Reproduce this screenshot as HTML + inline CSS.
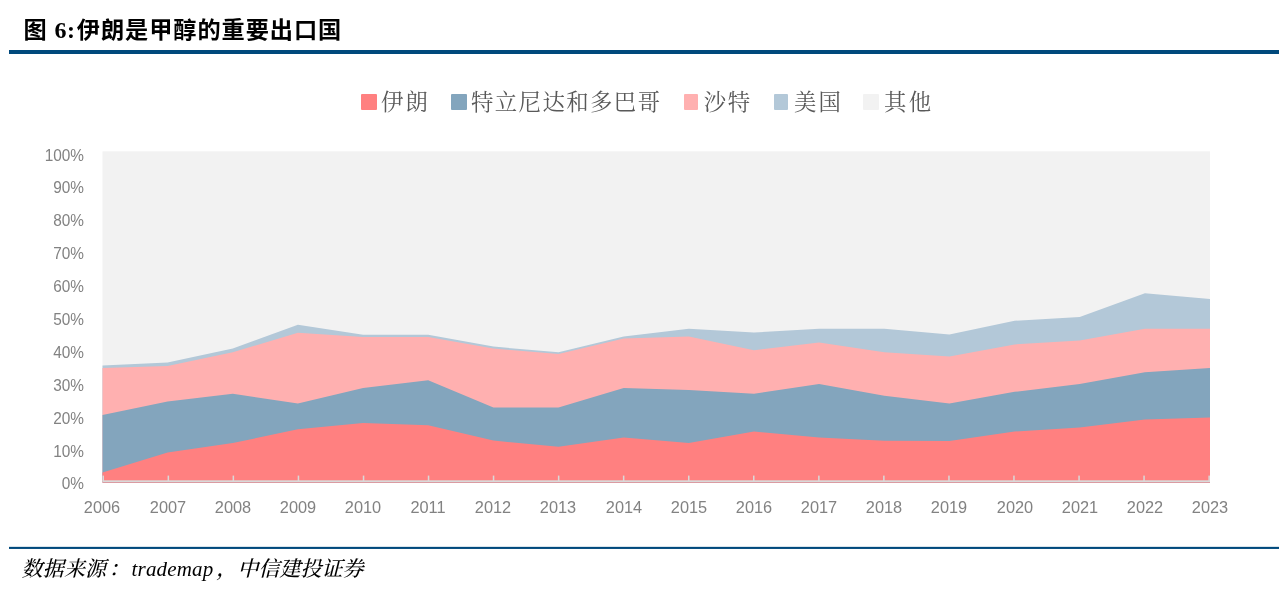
<!DOCTYPE html>
<html lang="zh-CN">
<head>
<meta charset="utf-8">
<title>图 6:伊朗是甲醇的重要出口国</title>
<style>
html,body{margin:0;padding:0;background:#fff;}
#page{position:relative;width:1284px;height:590px;overflow:hidden;background:#fff;}
#title{position:absolute;left:23.6px;top:12.3px;letter-spacing:0.93px;height:36px;line-height:36px;white-space:nowrap;
  font-family:"Liberation Serif","Noto Sans CJK SC",sans-serif;font-weight:bold;font-size:23.2px;color:#000;}
#title .n{font-family:"Liberation Serif",serif;font-size:24px;margin-left:0px;margin-right:1.2px;letter-spacing:0.6px;}
#rule1{position:absolute;left:9px;top:50px;width:1270px;height:4px;background:#00497C;}
.src{position:absolute;top:553px;height:32px;line-height:32px;white-space:nowrap;
  font-family:"Liberation Serif","Noto Serif CJK SC",serif;font-style:italic;font-size:21px;color:#000;}
svg{position:absolute;left:0;top:0;}
.cj{font-weight:500;}
.yl{position:absolute;left:19px;width:65px;height:20px;line-height:20px;text-align:right;
  font-family:"Liberation Sans",sans-serif;font-size:16.2px;color:#828282;transform:scaleX(0.95);transform-origin:100% 50%;}
.xl{position:absolute;top:497.4px;width:60px;height:20px;line-height:20px;text-align:center;
  font-family:"Liberation Sans",sans-serif;font-size:16.5px;color:#828282;transform:scaleX(0.99);transform-origin:50% 50%;}
.sw{position:absolute;top:93.9px;height:15.9px;border-radius:1px;}
.lt{position:absolute;top:86.5px;height:32px;line-height:32px;white-space:nowrap;
  font-family:"Liberation Serif","Noto Serif CJK SC",serif;font-size:22.4px;color:#595959;}
</style>
</head>
<body>
<div id="page">
<div id="title">图 <span class="n">6:</span>伊朗是甲醇的重要出口国</div>
<div id="rule1"></div>
<svg width="1284" height="590" viewBox="0 0 1284 590" shape-rendering="geometricPrecision">
<rect x="102.5" y="151.3" width="1107.5" height="331.2" fill="#F2F2F2"/>
<polygon fill="#B3C8D8" points="102.5,482.5 102.5,365.5 167.6,362.5 232.8,348.6 297.9,324.8 363.1,334.8 428.2,334.8 493.4,346.6 558.5,352.3 623.7,336.4 688.8,328.7 754.0,332.6 819.1,328.7 884.3,328.7 949.4,334.6 1014.6,320.8 1079.7,317.0 1144.9,293.2 1210.0,298.9 1210.0,482.5"/>
<polygon fill="#FFB0B0" points="102.5,482.5 102.5,368.0 167.6,365.9 232.8,352.3 297.9,332.8 363.1,336.9 428.2,336.9 493.4,348.6 558.5,353.9 623.7,338.5 688.8,336.6 754.0,350.3 819.1,342.5 884.3,352.3 949.4,356.4 1014.6,344.4 1079.7,340.5 1144.9,328.8 1210.0,328.8 1210.0,482.5"/>
<polygon fill="#83A5BD" points="102.5,482.5 102.5,415.1 167.6,401.5 232.8,393.8 297.9,403.6 363.1,387.9 428.2,380.2 493.4,407.6 558.5,407.6 623.7,387.9 688.8,389.9 754.0,393.8 819.1,384.0 884.3,395.8 949.4,403.6 1014.6,391.8 1079.7,384.0 1144.9,372.2 1210.0,368.1 1210.0,482.5"/>
<polygon fill="#FF8080" points="102.5,482.5 102.5,472.6 167.6,452.6 232.8,443.1 297.9,429.2 363.1,423.1 428.2,425.2 493.4,440.6 558.5,446.7 623.7,437.4 688.8,443.1 754.0,431.5 819.1,437.4 884.3,440.8 949.4,440.9 1014.6,431.5 1079.7,427.4 1144.9,419.5 1210.0,417.4 1210.0,482.5"/>
<rect x="9" y="546.85" width="1270" height="2.1" fill="#00497C"/>
<rect x="102.5" y="480.3" width="1107.5" height="1.7" fill="#D9D9D9"/>
<rect x="102.5" y="475.6" width="1.5" height="5.5" fill="#D9D9D9"/>
<rect x="167.6" y="475.6" width="1.5" height="5.5" fill="#D9D9D9"/>
<rect x="232.6" y="475.6" width="1.5" height="5.5" fill="#D9D9D9"/>
<rect x="297.7" y="475.6" width="1.5" height="5.5" fill="#D9D9D9"/>
<rect x="362.8" y="475.6" width="1.5" height="5.5" fill="#D9D9D9"/>
<rect x="427.8" y="475.6" width="1.5" height="5.5" fill="#D9D9D9"/>
<rect x="492.8" y="475.6" width="1.5" height="5.5" fill="#D9D9D9"/>
<rect x="557.9" y="475.6" width="1.5" height="5.5" fill="#D9D9D9"/>
<rect x="622.9" y="475.6" width="1.5" height="5.5" fill="#D9D9D9"/>
<rect x="688.0" y="475.6" width="1.5" height="5.5" fill="#D9D9D9"/>
<rect x="753.0" y="475.6" width="1.5" height="5.5" fill="#D9D9D9"/>
<rect x="818.1" y="475.6" width="1.5" height="5.5" fill="#D9D9D9"/>
<rect x="883.1" y="475.6" width="1.5" height="5.5" fill="#D9D9D9"/>
<rect x="948.2" y="475.6" width="1.5" height="5.5" fill="#D9D9D9"/>
<rect x="1013.2" y="475.6" width="1.5" height="5.5" fill="#D9D9D9"/>
<rect x="1078.3" y="475.6" width="1.5" height="5.5" fill="#D9D9D9"/>
<rect x="1143.3" y="475.6" width="1.5" height="5.5" fill="#D9D9D9"/>
<rect x="1208.4" y="475.6" width="1.5" height="5.5" fill="#D9D9D9"/>
</svg>
<div class="sw" style="left:360.6px;width:16px;background:#FF8080"></div><div class="lt" style="left:380.9px;letter-spacing:2.2px">伊朗</div>
<div class="sw" style="left:451.2px;width:16px;background:#83A5BD"></div><div class="lt" style="left:471.0px;letter-spacing:1.42px">特立尼达和多巴哥</div>
<div class="sw" style="left:683.9px;width:14px;background:#FFB0B0"></div><div class="lt" style="left:703.7px;letter-spacing:1.6px">沙特</div>
<div class="sw" style="left:774.3px;width:14px;background:#B3C8D8"></div><div class="lt" style="left:794.0px;letter-spacing:2.0px">美国</div>
<div class="sw" style="left:863.3px;width:15.7px;background:#F2F2F2"></div><div class="lt" style="left:884.0px;letter-spacing:2.4px">其他</div>
<div class="yl" style="top:473.4px">0%</div>
<div class="yl" style="top:440.5px">10%</div>
<div class="yl" style="top:407.6px">20%</div>
<div class="yl" style="top:374.7px">30%</div>
<div class="yl" style="top:341.8px">40%</div>
<div class="yl" style="top:308.9px">50%</div>
<div class="yl" style="top:276.1px">60%</div>
<div class="yl" style="top:243.2px">70%</div>
<div class="yl" style="top:210.3px">80%</div>
<div class="yl" style="top:177.4px">90%</div>
<div class="yl" style="top:144.5px">100%</div>
<div class="xl" style="left:72.4px">2006</div>
<div class="xl" style="left:137.5px">2007</div>
<div class="xl" style="left:202.7px">2008</div>
<div class="xl" style="left:267.8px">2009</div>
<div class="xl" style="left:333.0px">2010</div>
<div class="xl" style="left:398.1px">2011</div>
<div class="xl" style="left:463.3px">2012</div>
<div class="xl" style="left:528.4px">2013</div>
<div class="xl" style="left:593.6px">2014</div>
<div class="xl" style="left:658.7px">2015</div>
<div class="xl" style="left:723.9px">2016</div>
<div class="xl" style="left:789.0px">2017</div>
<div class="xl" style="left:854.2px">2018</div>
<div class="xl" style="left:919.3px">2019</div>
<div class="xl" style="left:984.5px">2020</div>
<div class="xl" style="left:1049.6px">2021</div>
<div class="xl" style="left:1114.8px">2022</div>
<div class="xl" style="left:1179.9px">2023</div>

<div class="src cj" style="left:21.6px;letter-spacing:0.15px">数据来源</div><div class="src cj" style="left:108.5px">：</div><div class="src" style="left:131.6px;letter-spacing:0.15px">trademap</div><div class="src cj" style="left:216.3px">，</div><div class="src cj" style="left:237.6px">中信建投证券</div>
</div>
</body>
</html>
